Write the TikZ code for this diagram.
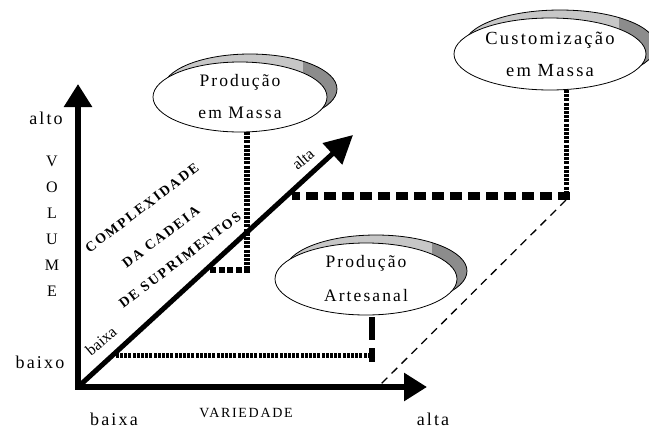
\documentclass[tikz,border=0pt]{standalone}
\usepackage{fontspec}
\usepackage{pdfrender}
\setmainfont{Liberation Serif}
\newfontfamily\spaced[LetterSpace=12]{Liberation Serif}
\newfontfamily\chainfont[LetterSpace=14]{Liberation Serif Bold}
\usetikzlibrary{arrows.meta,shapes.geometric,calc}

\definecolor{bandlight}{gray}{0.78}
\definecolor{banddark}{gray}{0.55}

% letters drawn as outlines only
\newcommand\hollowtext[1]{\textpdfrender{TextRenderingMode=Stroke,LineWidth=0.75}{#1}}

\begin{document}
\begin{tikzpicture}[x=1pt,y=-1pt,
  every node/.style={inner sep=0pt, outer sep=0pt},
  >={Triangle[length=23pt,width=27pt]},
  axis/.style={line width=6pt, line join=miter},
  diagaxis/.style={line width=5pt, -{Triangle[length=28pt,width=28pt]}},
  bubble/.style={ellipse, draw, line width=0.8pt, fill=white, align=center, inner sep=0pt},
  ladder/.style={line width=5pt, dash pattern=on 3pt off 1.2pt},
  blockdash/.style={line width=8pt, dash pattern=on 12pt off 6pt},
  smalldash/.style={line width=6pt, dash pattern=on 6pt off 2.5pt},
  guide/.style={line width=1.3pt, dash pattern=on 8pt off 6pt},
  axislabel/.style={font=\spaced\fontsize{18}{20}\selectfont},
  diaglabel/.style={font=\fontsize{16}{18}\selectfont},
  chainlabel/.style={font=\chainfont\fontsize{14}{16}\selectfont, rotate=37},
]
\useasboundingbox (0,0) rectangle (649,432);

% axes
\coordinate (o) at (78,387);
\coordinate (ytip) at (78,84);
\coordinate (xtip) at (427,387);
\coordinate (dtip) at (353,135);
\draw[axis, <->] (ytip) -- (o) -- (xtip);
\draw[diagaxis] (o) -- (dtip);

% centres of the three bubbles
\coordinate (cm) at (240,97);
\coordinate (ca) at (366,279);
\coordinate (cc) at (550,54);

% raised grey rims behind the bubbles
\foreach \c/\rx/\ry in {cm/87/35, ca/91/36, cc/96/36}{
  \fill[bandlight] ($(\c)+(10,-8)$) ellipse [x radius=\rx pt, y radius=\ry pt];
  \begin{scope}
    \clip ($(\c)+(10,-8)$) ellipse [x radius=\rx pt, y radius=\ry pt];
    \fill[banddark] ($(\c)+(0.72*\rx,-60)$) rectangle ($(\c)+(\rx+30,60)$);
  \end{scope}
  \draw[line width=0.8pt] ($(\c)+(10,-8)$) ellipse [x radius=\rx pt, y radius=\ry pt];
}

\node[bubble, minimum width=174pt, minimum height=70pt,
      font=\spaced\fontsize{17.5}{32}\selectfont] (mass) at (cm) {Produção\\em Massa};
\node[bubble, minimum width=182pt, minimum height=72pt,
      font=\spaced\fontsize{17.5}{34}\selectfont] (art) at (ca) {Produção\\Artesanal};
\node[bubble, minimum width=192pt, minimum height=72pt,
      font=\spaced\fontsize{18.5}{32}\selectfont] (cust) at (cc) {Customização\\em Massa};

% projections onto the axes
\coordinate (mk) at (247,270);
\coordinate (mend) at (208,270);
\draw[ladder, line width=6pt] ($(mass.south)+(7,0)$) -- (mk);
\draw[smalldash] ($(mk)+(3,0)$) -- (mend);

\coordinate (ck) at (566,196);
\coordinate (cend) at (292,196);
\draw[ladder] ($(cust.south)+(16,0)$) -- (ck);
\draw[blockdash] ($(ck)+(4,0)$) -- (cend);

\coordinate (ak) at (372,355);
\coordinate (aend) at (115,355);
\draw[line width=6pt, dash pattern=on 23pt off 8pt on 20pt] ($(art.south)+(6,2)$) -- ($(ak)+(0,7)$);
\draw[ladder] ($(ak)+(3,0)$) -- (aend);

\coordinate (gend) at (380,385);
\draw[guide] ($(ck)+(0,4)$) -- (gend);

% axis labels
\node[axislabel] (alto) at (46,118) {alto};
\node[axislabel] (baixo) at (40,362) {baixo};
\node[axislabel] (baixaX) at (114,419) {baixa};
\node[axislabel] (altaX) at (433,419) {alta};
\node[font=\spaced\fontsize{14}{16}\selectfont] (variedade) at (246,413) {VARIEDADE};
\node[font=\fontsize{16}{26}\selectfont, align=center] (volume) at (52,226) {V\\O\\L\\U\\M\\E};
\node[diaglabel, rotate=40] (baixaD) at (101,341) {baixa};
\node[diaglabel, rotate=40] (altaD) at (303,159) {alta};

% supply chain complexity, written along the depth axis
\node[chainlabel] (chainA) at (142,208) {\hollowtext{COMPLEXIDADE}};
\node[chainlabel] (chainB) at (161,237) {\hollowtext{DA CADEIA}};
\node[chainlabel] (chainC) at (180,260) {\hollowtext{DE SUPRIMENTOS}};
\end{tikzpicture}
\end{document}
